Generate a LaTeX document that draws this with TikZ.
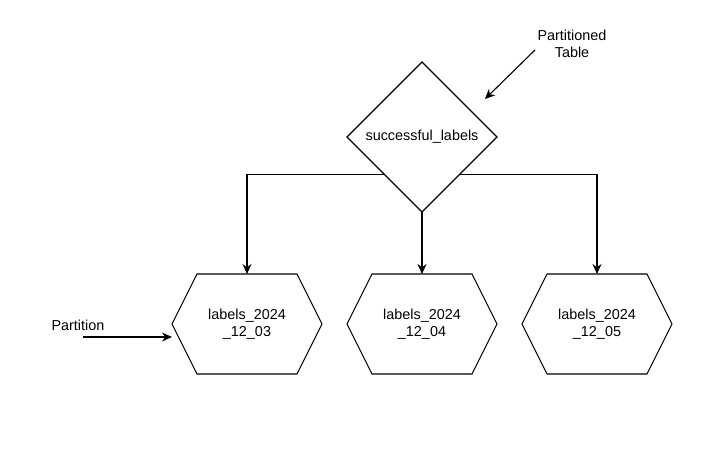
\documentclass[tikz,border=0pt]{standalone}
\usepackage{fontspec}
\setmainfont{Liberation Sans}
\usetikzlibrary{calc}
\usetikzlibrary{shapes.geometric}
\usetikzlibrary{arrows.meta}
\newcommand*{\hexw }{150pt}
\newcommand*{\hexh }{100pt}
\newcommand*{\hexin}{25pt}
\newcommand*{\hexy }{324}
\tikzset{
    dianode/.style={diamond, draw, aspect=1, minimum width=150pt, minimum height=150pt, inner sep=0pt, outer sep=0pt},
    hexnode/.style={minimum width=\hexw, minimum height=\hexh, inner sep=0pt, outer sep=0pt, align=center},
    txtnode/.style={inner sep=0pt, align=center},
    conn/.style={-{Stealth[length=10pt,width=9pt]}},
}

\begin{document}
\begin{tikzpicture}[x=1pt, y=-1pt, font=\fontsize{14.4}{17}\selectfont, line width=1.1pt]
    \useasboundingbox (0,0) rectangle (724,452);
    \node [dianode] (dia) at (422,137) {successful\_labels};
    % partitions
    \foreach \nm/\xx/\dd in {p03/247/03, p04/422/04, p05/597/05} {
        \node [hexnode] (\nm) at (\xx,\hexy) {labels\_2024\\\_12\_\dd};
        \draw (\nm.west) -- ([xshift=\hexin]\nm.north west) -- ([xshift=-\hexin]\nm.north east)
              -- (\nm.east) -- ([xshift=-\hexin]\nm.south east) -- ([xshift=\hexin]\nm.south west) -- cycle;
    }
    \draw [conn] ($(dia.west)!0.5!(dia.south)$) -| (p03.north);
    \draw [conn] (dia.south) -- (p04.north);
    \draw [conn] ($(dia.east)!0.5!(dia.south)$) -| (p05.north);
    % labels
    \node [txtnode] (ptbl) at (572,44) {Partitioned\\Table};
    \coordinate (ptip) at (485,99);
    \draw [conn] ([shift={(-2,6)}]ptbl.west) -- (ptip);
    \node [txtnode] (part) at (78,325) {Partition};
    \coordinate (pstart) at ([shift={(5,12)}]part.center);
    \draw [conn] (pstart) -- (pstart -| p03.west);
\end{tikzpicture}
\end{document}
